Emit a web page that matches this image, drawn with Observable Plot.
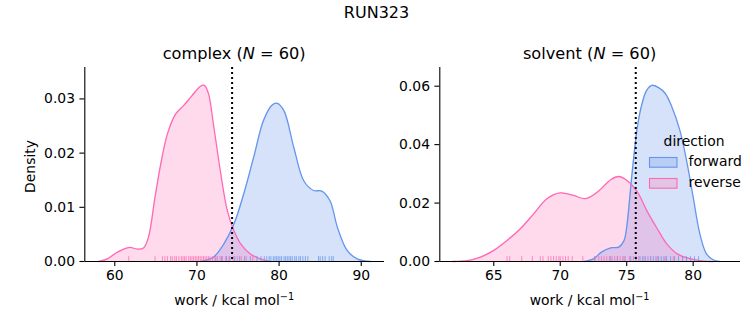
<!DOCTYPE html>
<html><head><meta charset="utf-8">
<script src="https://cdn.jsdelivr.net/npm/d3@7"></script>
<script src="https://cdn.jsdelivr.net/npm/@observablehq/plot@0.6"></script>
<style>
body{margin:0;background:#fff;}
#wrap{position:relative;width:753px;height:325px;font-family:"DejaVu Sans",sans-serif;color:#000;overflow:hidden;}
#wrap .p{position:absolute;top:0;}
#wrap svg.ov{position:absolute;left:0;top:0;pointer-events:none;}
</style></head><body><div id="wrap"></div>
<script>
// ---------- data ----------
const figTitle = "RUN323";
const directions = ["forward", "reverse"];
const colors = ["#6495ED", "#FF69B4"];

// complex panel: KDE curves
const complexForwardX = [70.4,72.0,73.3,74.5,75.7,76.9,78.1,79.1,79.8,80.6,81.8,83.0,84.2,85.2,86.2,87.1,88.3,89.5,91.1];
const complexForwardY = [0,0.0008,0.0033,0.0069,0.0125,0.0192,0.026,0.0288,0.0292,0.0278,0.021,0.0149,0.0131,0.013,0.0112,0.0063,0.002,0.0005,0];
const complexReverseX = [58.0,59.1,60.3,61.8,62.7,63.5,64.1,64.9,65.6,66.4,67.4,68.4,69.4,70.4,70.9,71.4,72.0,72.9,73.7,74.5,75.3,76.5,77.7,78.9];
const complexReverseY = [0,0.0005,0.0017,0.0026,0.0023,0.0025,0.0045,0.0119,0.018,0.0235,0.0272,0.0288,0.0306,0.0323,0.0325,0.031,0.0254,0.0162,0.0094,0.0057,0.0033,0.0014,0.0005,0];
// complex panel: rug samples
const complexForwardRug = [72.3,73.0,73.6,74.0,74.6,75.2,75.8,76.5,77.3,77.8,78.2,78.5,78.8,79.0,79.3,79.5,79.7,79.9,80.1,80.3,80.6,80.8,81.0,81.2,81.4,81.6,81.9,82.1,82.4,82.6,82.9,83.2,83.5,84.8,85.0,85.3,85.6,86.1,86.4,86.6];
const complexReverseRug = [61.7,64.9,65.8,66.1,66.4,66.8,67.0,67.3,67.5,67.8,68.1,68.3,68.5,68.7,69.0,69.2,69.4,69.6,69.8,70.0,70.2,70.4,70.6,70.8,71.0,71.2,71.4,71.6,71.9,72.2,72.5,72.8,73.1,73.5,73.9,74.4,74.9,75.4,76.0,76.8];
const complexDashX = 74.28;
const complexXTicks = [60, 70, 80, 90];
const complexYTicks = [0, 0.01, 0.02, 0.03];

// solvent panel
const solventForwardX = [71.8,72.5,73.1,73.8,74.4,74.8,75.0,75.4,75.8,76.15,76.5,76.9,77.4,77.9,78.4,79.0,79.5,80.0,80.5,81.0,81.5,82.0];
const solventForwardY = [0,0.0009,0.0032,0.0047,0.0049,0.0072,0.0118,0.030,0.046,0.054,0.0586,0.0603,0.0595,0.0575,0.0529,0.0449,0.0346,0.022,0.0095,0.0026,0.0006,0];
const solventReverseX = [61.9,63.0,64.0,65.0,66.0,67.0,68.0,69.0,70.0,71.0,71.9,72.8,73.8,74.4,75.0,75.8,76.5,77.3,78.0,78.8,79.8,80.8,81.5];
const solventReverseY = [0,0.0003,0.0015,0.0038,0.0072,0.0112,0.0163,0.0215,0.0235,0.0226,0.0215,0.0238,0.028,0.0291,0.0278,0.0238,0.0175,0.0112,0.0061,0.0026,0.0009,0.0001,0];
const solventForwardRug = [72.6,73.8,74.3,74.8,75.3,75.7,76.0,76.2,76.4,76.6,76.8,77.0,77.2,77.4,77.6,77.8,78.0,78.3,78.6,78.9,79.2,79.5,79.8,80.1,80.4];
const solventReverseRug = [66.0,66.2,67.1,67.9,68.5,68.7,69.1,69.3,69.5,69.7,69.9,70.0,70.2,70.4,70.6,70.9,71.7,72.6,72.9,73.1,73.3,73.5,73.7,73.9,74.1,74.3,74.5,74.7,74.9,75.2,75.5,75.9,76.3,76.8,77.3,77.9,78.5];
const solventDashX = 75.68;
const solventXTicks = [65, 70, 75, 80];
const solventYTicks = [0, 0.02, 0.04, 0.06];

// ---------- build ----------
function curve(xs, ys, dir) { return xs.map((x, i) => ({x, y: ys[i], dir})); }
function rug(xs, dir) { return xs.map(x => ({x, dir})); }

const font = "DejaVu Sans";
const crv = "catmull-rom";
function panel(opts) {
  const {fwd, rev, fRug, rRug, dash, xTicks, yTicks, xDomain, yDomain, width, ml, mr, yFmt} = opts;
  const rugs = [...fRug, ...rRug];
  const rugH = yDomain[1] * 0.025;
  return Plot.plot({
    width, height: 325,
    marginLeft: ml, marginRight: mr, marginTop: 67, marginBottom: 64,
    x: {domain: xDomain},
    y: {domain: yDomain, clamp: true},
    color: {domain: directions, range: colors},
    style: {fontFamily: font, fontSize: "13.9px", color: "black", background: "transparent", overflow: "visible"},
    marks: [
      Plot.areaY(fwd, {x: "x", y: "y", fill: "dir", fillOpacity: 0.27, curve: crv}),
      Plot.areaY(rev, {x: "x", y: "y", fill: "dir", fillOpacity: 0.25, curve: crv}),
      Plot.line(fwd, {x: "x", y: "y", stroke: "dir", strokeWidth: 1.3, curve: crv}),
      Plot.line(rev, {x: "x", y: "y", stroke: "dir", strokeWidth: 1.3, curve: crv}),
      Plot.ruleX(rugs, {x: "x", y1: 0, y2: rugH, stroke: "dir", strokeOpacity: 0.75, strokeWidth: 1}),
      Plot.ruleX([dash], {stroke: "black", strokeWidth: 2, strokeDasharray: "2,3"}),
      Plot.ruleY([yDomain[0]], {stroke: "black", strokeWidth: 1.1}),
      Plot.ruleX([xDomain[0]], {stroke: "black", strokeWidth: 1.1}),
      Plot.axisX({ticks: xTicks, tickSize: 4.9, tickPadding: 4, label: null, tickFormat: d => String(d), strokeWidth: 1.1}),
      Plot.axisY({ticks: yTicks, tickSize: 4.9, tickPadding: 4.9, label: null, tickFormat: yFmt, strokeWidth: 1.1})
    ]
  });
}

const wrap = document.getElementById("wrap");

const left = panel({
  fwd: curve(complexForwardX, complexForwardY, "forward"),
  rev: curve(complexReverseX, complexReverseY, "reverse"),
  fRug: rug(complexForwardRug, "forward"), rRug: rug(complexReverseRug, "reverse"),
  dash: complexDashX, xTicks: complexXTicks, yTicks: complexYTicks,
  xDomain: [56.35, 92.83], yDomain: [0, 0.0358],
  width: 390, ml: 84.3, mr: 6, yFmt: d3.format(".2f")
});
left.classList.add("p"); left.style.left = "0px";
wrap.appendChild(left);

const right = panel({
  fwd: curve(solventForwardX, solventForwardY, "forward"),
  rev: curve(solventReverseX, solventReverseY, "reverse"),
  fRug: rug(solventForwardRug, "forward"), rRug: rug(solventReverseRug, "reverse"),
  dash: solventDashX, xTicks: solventXTicks, yTicks: solventYTicks,
  xDomain: [60.94, 83.56], yDomain: [0, 0.0664],
  width: 363, ml: 49.3, mr: 13, yFmt: d3.format(".2f")
});
right.classList.add("p"); right.style.left = "390px";
wrap.appendChild(right);

// ---------- text overlay: titles, labels, legend ----------
const ov = d3.select(wrap).append("svg").attr("class", "ov")
  .attr("width", 753).attr("height", 325)
  .style("font-family", font);

ov.append("text").attr("x", 376.5).attr("y", 18).attr("text-anchor", "middle")
  .style("font-size", "16px").text(figTitle);

function panelTitle(cx, name) {
  const t = ov.append("text").attr("x", cx).attr("y", 59).attr("text-anchor", "middle").style("font-size", "16.2px");
  t.append("tspan").text(name + " (");
  t.append("tspan").style("font-style", "italic").text("N");
  t.append("tspan").text(" = 60)");
}
panelTitle(234.2, "complex");
panelTitle(589.6, "solvent");

function xLabel(cx) {
  const t = ov.append("text").attr("x", cx).attr("y", 305).attr("text-anchor", "middle").style("font-size", "13.9px");
  t.append("tspan").text("work / kcal mol");
  t.append("tspan").attr("dy", -5).style("font-size", "9.7px").text("\u22121");
}
xLabel(234.2);
xLabel(589.6);

ov.append("text").attr("transform", "translate(35,166.5) rotate(-90)").attr("text-anchor", "middle")
  .style("font-size", "13.9px").text("Density");

// legend
ov.append("text").attr("x", 694).attr("y", 146).attr("text-anchor", "middle").style("font-size", "13.9px").text("direction");
const legFill = ["#b9cdf5", "#e2c4e4"];
directions.forEach((d, i) => {
  const y = 157.5 + i * 21;
  ov.append("rect").attr("x", 649.5).attr("y", y).attr("width", 27.5).attr("height", 9.7)
    .attr("fill", legFill[i]).attr("stroke", colors[i]).attr("stroke-width", 1.1);
  ov.append("text").attr("x", 688.5).attr("y", y + 8.5).style("font-size", "13.9px").text(d);
});
</script></body></html>
